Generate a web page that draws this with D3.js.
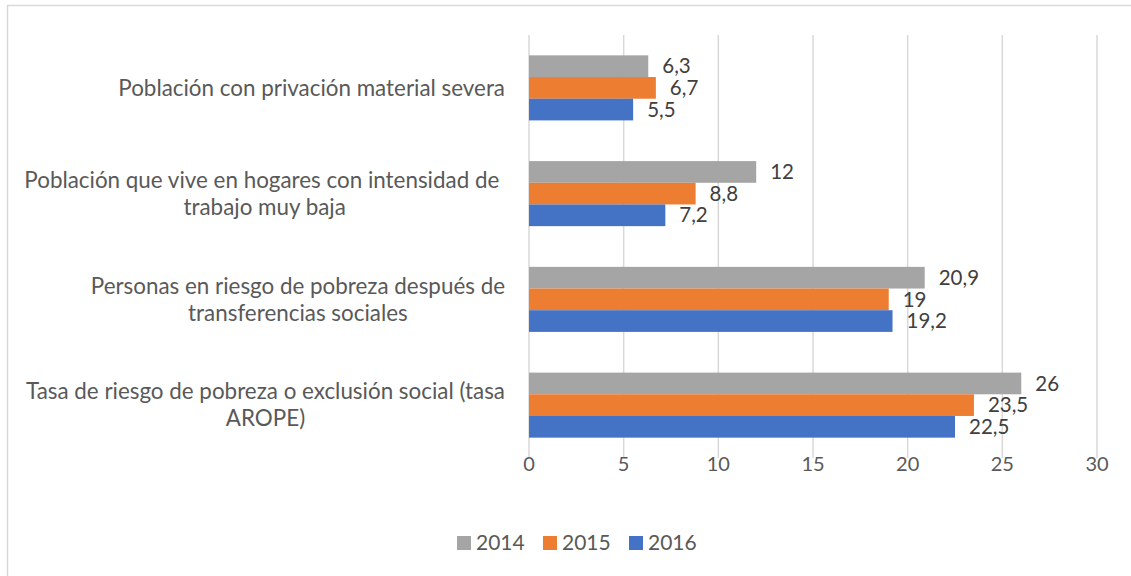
<!DOCTYPE html>
<html><head><meta charset="utf-8">
<script src="https://cdn.jsdelivr.net/npm/d3@7"></script>
<style>body{margin:0;background:#fff;}svg{display:block;font-family:Lato,"Open Sans",sans-serif;} text{white-space:pre;}</style>
</head><body><svg id="c" width="1131" height="576"></svg>
<script>
const categories = [
  ["Población con privación material severa"],
  ["Población que vive en hogares con intensidad de ", "trabajo muy baja"],
  ["Personas en riesgo de pobreza después de", "transferencias sociales"],
  ["Tasa de riesgo de pobreza o exclusión social (tasa", "AROPE)"]
];
const seriesNames = ["2014", "2015", "2016"];
const colors = ["#A5A5A5", "#ED7D31", "#4472C4"];
const v2014 = [6.3, 12, 20.9, 26];
const v2015 = [6.7, 8.8, 19, 23.5];
const v2016 = [5.5, 7.2, 19.2, 22.5];
const xTicks = [0, 5, 10, 15, 20, 25, 30];
const valueLabels = [["6,3","12","20,9","26"],["6,7","8,8","19","23,5"],["5,5","7,2","19,2","22,5"]];
const values = [v2014, v2015, v2016];

const svg = d3.select("#c");
svg.append("rect").attr("x",7.5).attr("y",5.5).attr("width",1140).attr("height",600)
  .attr("fill","none").attr("stroke","#D9D9D9").attr("stroke-width",1.5);

const x = d3.scaleLinear().domain([0,30]).range([529,1097]);
const y = d3.scaleBand().domain(d3.range(categories.length)).range([35,458]).paddingInner(0.385).paddingOuter(0.1925);
const ys = d3.scaleBand().domain(d3.range(3)).range([0,y.bandwidth()]);

// gridlines
svg.append("g").selectAll("line").data(xTicks).join("line")
  .attr("x1",d=>x(d)).attr("x2",d=>x(d)).attr("y1",35).attr("y2",458)
  .attr("stroke","#D9D9D9").attr("stroke-width",1.5);

// bars
const g = svg.append("g");
values.forEach((vals,si)=>{
  g.selectAll(null).data(vals).join("rect")
    .attr("x",x(0)).attr("y",(d,i)=>y(i)+ys(si))
    .attr("width",d=>x(d)-x(0)).attr("height",ys.bandwidth())
    .attr("fill",colors[si]);
  g.selectAll(null).data(vals).join("text")
    .attr("x",d=>x(d)+14).attr("y",(d,i)=>y(i)+ys(si)+ys.bandwidth()/2)
    .attr("dy","0.35em").attr("font-size",20.5).attr("fill","#404040")
    .text((d,i)=>valueLabels[si][i]);
});

// category labels
categories.forEach((lines,i)=>{
  const cy = y(i)+y.bandwidth()/2;
  const lh = 27;
  const t = svg.append("g");
  const widths=[];
  const texts = lines.map((l,k)=>{
    const tx = t.append("text").attr("font-size",22.4).attr("fill","#595959")
      .attr("y", cy + (k-(lines.length-1)/2)*lh).attr("dy","0.35em").text(l);
    widths.push(tx.node().getComputedTextLength());
    return tx;
  });
  const maxW = d3.max(widths);
  const center = 505 - maxW/2;
  texts.forEach(tx=>tx.attr("x",center).attr("text-anchor","middle"));
});

// x axis labels
svg.append("g").selectAll("text").data(xTicks).join("text")
  .attr("x",d=>x(d)).attr("y",464).attr("dy","0.35em").attr("text-anchor","middle")
  .attr("font-size",20).attr("fill","#595959").text(d=>d);

// legend
const leg = svg.append("g");
const legX = [457, 543, 629];
seriesNames.forEach((s,i)=>{
  leg.append("rect").attr("x",legX[i]).attr("y",536).attr("width",14).attr("height",14).attr("fill",colors[i]);
  leg.append("text").attr("x",legX[i]+19).attr("y",543).attr("dy","0.35em")
    .attr("font-size",21).attr("fill","#595959").text(s);
});
</script></body></html>
